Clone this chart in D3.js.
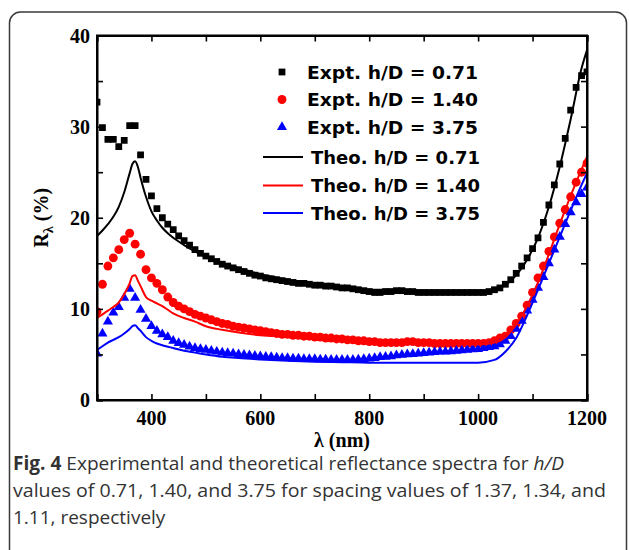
<!DOCTYPE html>
<html>
<head>
<meta charset="utf-8">
<script src="https://cdn.jsdelivr.net/npm/d3@7"></script>
<style>
  body { margin: 0; background: #fff; }
  svg { display: block; }
</style>
</head>
<body>
<svg id="chart" width="629" height="550"></svg>
<script>
// measured points, every 10 nm
const exptWl = [
  300, 310, 320, 330, 340, 350, 360, 370, 380, 390,
  400, 410, 420, 430, 440, 450, 460, 470, 480, 490,
  500, 510, 520, 530, 540, 550, 560, 570, 580, 590,
  600, 610, 620, 630, 640, 650, 660, 670, 680, 690,
  700, 710, 720, 730, 740, 750, 760, 770, 780, 790,
  800, 810, 820, 830, 840, 850, 860, 870, 880, 890,
  900, 910, 920, 930, 940, 950, 960, 970, 980, 990,
  1000, 1010, 1020, 1030, 1040, 1050, 1060, 1070, 1080, 1090,
  1100, 1110, 1120, 1130, 1140, 1150, 1160, 1170, 1180, 1190,
  1200
];
const expt071 = [
  32.7, 29.9, 28.6, 28.6, 27.8, 28.5, 30.1, 30.1, 26.9, 24.2,
  22.4, 21.0, 20.0, 19.3, 18.7, 18.0, 17.5, 17.0, 16.5, 16.1,
  15.8, 15.5, 15.2, 14.9, 14.7, 14.5, 14.3, 14.1, 13.9, 13.7,
  13.6, 13.4, 13.3, 13.2, 13.1, 13.0, 12.9, 12.8, 12.8, 12.7,
  12.6, 12.6, 12.5, 12.5, 12.4, 12.3, 12.3, 12.2, 12.1, 12.0,
  11.9, 11.8, 11.8, 11.9, 11.9, 12.0, 12.0, 11.9, 11.9, 11.8,
  11.8, 11.8, 11.8, 11.8, 11.8, 11.8, 11.8, 11.8, 11.8, 11.8,
  11.8, 11.8, 11.9, 12.1, 12.3, 12.7, 13.2, 13.9, 14.7, 15.6,
  16.6, 17.8, 19.5, 21.4, 23.6, 25.9, 28.7, 31.8, 34.3, 35.6,
  36.0
];
const expt140 = [
  9.7, 12.7, 14.7, 15.6, 16.5, 17.6, 18.3, 17.1, 16.0, 14.3,
  13.4, 12.8, 12.1, 11.3, 10.7, 10.3, 10.0, 9.7, 9.4, 9.2,
  9.0, 8.8, 8.6, 8.4, 8.3, 8.1, 8.0, 7.9, 7.8, 7.7,
  7.6, 7.5, 7.4, 7.3, 7.2, 7.2, 7.1, 7.1, 7.0, 7.0,
  6.9, 6.9, 6.8, 6.8, 6.7, 6.7, 6.6, 6.6, 6.5, 6.5,
  6.4, 6.4, 6.3, 6.3, 6.3, 6.3, 6.3, 6.4, 6.4, 6.3,
  6.3, 6.3, 6.2, 6.2, 6.2, 6.2, 6.2, 6.2, 6.2, 6.2,
  6.2, 6.2, 6.3, 6.5, 6.8, 7.0, 7.7, 8.4, 9.2, 10.4,
  11.8, 13.4, 14.7, 16.3, 17.9, 19.4, 20.9, 22.3, 23.9, 25.0,
  26.0
];
const expt375 = [
  5.1, 7.3, 8.6, 9.6, 10.2, 11.2, 12.2, 11.2, 9.9, 8.9,
  8.1, 7.6, 7.2, 6.9, 6.5, 6.25, 6.05, 5.85, 5.7, 5.6,
  5.5, 5.4, 5.3, 5.2, 5.15, 5.1, 5.0, 4.95, 4.9, 4.85,
  4.8, 4.75, 4.7, 4.65, 4.6, 4.6, 4.55, 4.55, 4.5, 4.5,
  4.5, 4.45, 4.45, 4.4, 4.4, 4.4, 4.4, 4.4, 4.45, 4.5,
  4.55, 4.6, 4.7, 4.75, 4.8, 4.9, 4.95, 5.0, 5.05, 5.1,
  5.15, 5.2, 5.25, 5.3, 5.3, 5.35, 5.4, 5.45, 5.5, 5.55,
  5.6, 5.7, 5.8, 5.9, 6.1, 6.5, 7.0, 7.8, 8.7, 9.8,
  11.0, 12.3, 13.5, 15.0, 16.5, 17.9, 19.3, 20.6, 21.7, 22.6,
  23.3
];

// theoretical curves
const theoWl = [
  300, 310, 320, 330, 340, 350, 360, 365, 370, 375,
  380, 390, 400, 410, 420, 430, 440, 460, 480, 500,
  530, 560, 600, 650, 700, 750, 800, 850, 900, 950,
  1000, 1030, 1050, 1070, 1090, 1110, 1130, 1150, 1170, 1190,
  1200
];
const theo071 = [
  18.0, 18.6, 19.3, 20.1, 21.2, 22.8, 24.9, 25.9, 26.2, 25.6,
  24.4, 22.3, 20.7, 19.7, 18.9, 18.3, 17.8, 17.0, 16.3, 15.7,
  15.0, 14.5, 13.8, 13.2, 12.7, 12.4, 12.1, 12.1, 11.9, 11.8,
  11.8, 12.1, 12.6, 13.7, 15.4, 17.8, 21.2, 25.6, 30.8, 36.4,
  38.4
];
const theo140 = [
  9.0, 9.4, 9.8, 10.2, 10.7, 11.6, 12.8, 13.6, 13.7, 13.1,
  12.5, 11.3, 10.9, 10.6, 10.3, 9.9, 9.5, 9.0, 8.6, 8.1,
  7.7, 7.4, 7.1, 6.95, 6.75, 6.6, 6.4, 6.3, 6.2, 6.15,
  6.1, 6.3, 6.9, 8.3, 10.3, 12.9, 16.0, 19.3, 22.4, 25.3,
  26.7
];
const theo375 = [
  5.5, 5.9, 6.3, 6.6, 6.9, 7.3, 7.8, 8.1, 8.2, 7.9,
  7.6, 6.9, 6.5, 6.2, 6.0, 5.85, 5.7, 5.4, 5.2, 5.0,
  4.75, 4.6, 4.45, 4.3, 4.2, 4.15, 4.1, 4.1, 4.1, 4.1,
  4.1, 4.4, 5.3, 6.8, 9.3, 12.1, 15.0, 17.9, 20.8, 23.6,
  24.9
];

const xTicks = [400, 600, 800, 1000, 1200];
const yTicks = [0, 10, 20, 30, 40];
const legendLabels = [
  'Expt. h/D = 0.71', 'Expt. h/D = 1.40', 'Expt. h/D = 3.75',
  'Theo. h/D = 0.71', 'Theo. h/D = 1.40', 'Theo. h/D = 3.75'
];
const captionLines = [
  'Experimental and theoretical reflectance spectra for ',
  'values of 0.71, 1.40, and 3.75 for spacing values of 1.37, 1.34, and',
  '1.11, respectively'
];

const svg = d3.select('#chart');
const margin = { left: 97, top: 35.5, right: 42, bottom: 150 };
const W = 629, H = 550;
const x = d3.scaleLinear().domain([300, 1200]).range([margin.left, W - margin.right]);
const y = d3.scaleLinear().domain([0, 40]).range([H - margin.bottom, margin.top]);

// outer figure frame
svg.append('rect')
  .attr('x', 9.5).attr('y', 12)
  .attr('width', 617).attr('height', 600)
  .attr('rx', 11)
  .attr('fill', 'none')
  .attr('stroke', '#3a3a3a')
  .attr('stroke-width', 1.5);

svg.append('defs').append('clipPath').attr('id', 'plot-clip')
  .append('rect')
  .attr('x', x(300)).attr('y', y(40))
  .attr('width', x(1200) - x(300)).attr('height', y(0) - y(40));

const plot = svg.append('g').attr('clip-path', 'url(#plot-clip)');

const series = [
  { wl: exptWl, v: expt071, color: '#000', shape: d3.symbolSquare, size: 46 },
  { wl: exptWl, v: expt140, color: '#ff0000', shape: d3.symbolCircle, size: 62 },
  { wl: exptWl, v: expt375, color: '#0000ff', shape: d3.symbolTriangle, size: 44 }
];
const theory = [
  { wl: theoWl, v: theo071, color: '#000' },
  { wl: theoWl, v: theo140, color: '#ff0000' },
  { wl: theoWl, v: theo375, color: '#0000ff' }
];

const line = d3.line()
  .x(d => x(d[0]))
  .y(d => y(d[1]))
  .curve(d3.curveMonotoneX);

series.forEach(s => {
  plot.append('g')
    .selectAll('path')
    .data(d3.zip(s.wl, s.v))
    .join('path')
    .attr('transform', d => `translate(${x(d[0])},${y(d[1])})`)
    .attr('d', d3.symbol().type(s.shape).size(s.size)())
    .attr('fill', s.color);
});

theory.forEach(t => {
  plot.append('path')
    .datum(d3.zip(t.wl, t.v))
    .attr('d', line)
    .attr('fill', 'none')
    .attr('stroke', t.color)
    .attr('stroke-width', 2);
});

// axes, ticks pointing inward on all four sides
const tickFont = 'bold 20px "Liberation Serif", "Times New Roman", serif';
const xAxisB = d3.axisBottom(x).tickValues(d3.range(300, 1201, 100)).tickSize(-6).tickFormat('');
const yAxisL = d3.axisLeft(y).tickValues(d3.range(0, 41, 5)).tickSize(-6).tickFormat('');

svg.append('g').attr('transform', `translate(0,${y(0)})`).call(xAxisB);
svg.append('g').attr('transform', `translate(0,${y(40)})`)
  .call(d3.axisTop(x).tickValues(d3.range(300, 1201, 100)).tickSize(-6).tickFormat(''));
svg.append('g').attr('transform', `translate(${x(300)},0)`).call(yAxisL);
svg.append('g').attr('transform', `translate(${x(1200)},0)`)
  .call(d3.axisRight(y).tickValues(d3.range(0, 41, 5)).tickSize(-6).tickFormat(''));

svg.selectAll('.domain').attr('stroke', '#000').attr('stroke-width', 2);
svg.selectAll('.tick line').attr('stroke', '#000').attr('stroke-width', 1.6);

svg.append('rect')
  .attr('x', x(300)).attr('y', y(40))
  .attr('width', x(1200) - x(300)).attr('height', y(0) - y(40))
  .attr('fill', 'none').attr('stroke', '#000').attr('stroke-width', 2);

svg.append('g').selectAll('text')
  .data(xTicks)
  .join('text')
  .attr('x', d => x(d))
  .attr('y', y(0) + 25)
  .attr('text-anchor', 'middle')
  .style('font', tickFont)
  .text(d => d);

svg.append('g').selectAll('text')
  .data(yTicks)
  .join('text')
  .attr('x', x(300) - 7)
  .attr('y', d => y(d) + 7)
  .attr('text-anchor', 'end')
  .style('font', tickFont)
  .text(d => d);

// axis titles
svg.append('text')
  .attr('x', (x(300) + x(1200)) / 2)
  .attr('y', 447)
  .attr('text-anchor', 'middle')
  .style('font', tickFont)
  .text('λ (nm)');

const yTitle = svg.append('text')
  .attr('transform', `translate(48,${(y(0) + y(40)) / 2}) rotate(-90)`)
  .attr('text-anchor', 'middle')
  .style('font', tickFont);
yTitle.append('tspan').text('R');
yTitle.append('tspan').attr('dy', 5).style('font-size', '14px').text('λ');
yTitle.append('tspan').attr('dy', -5).text(' (%)');

// legend
const legend = svg.append('g');
const legendFont = 'bold 18px "DejaVu Sans", Verdana, sans-serif';
const rowY = [72, 99.5, 127, 157, 185.5, 213];
legendLabels.forEach((lab, i) => {
  if (i < 3) {
    legend.append('path')
      .attr('transform', `translate(282,${rowY[i]})`)
      .attr('d', d3.symbol().type(series[i].shape).size(series[i].size)())
      .attr('fill', series[i].color);
  } else {
    legend.append('line')
      .attr('x1', 263).attr('x2', 303)
      .attr('y1', rowY[i]).attr('y2', rowY[i])
      .attr('stroke', theory[i - 3].color)
      .attr('stroke-width', 2);
  }
  legend.append('text')
    .attr('x', i < 3 ? 307 : 311)
    .attr('y', rowY[i] + 6.5)
    .style('font', legendFont)
    .attr('textLength', i < 3 ? 171 : 169)
    .attr('lengthAdjust', 'spacingAndGlyphs')
    .attr('fill', '#000')
    .text(lab);
});

// caption, widths matched to the printed lines
const capFont = '19px "Open Sans", "Noto Sans", sans-serif';
const cap = svg.append('g').attr('fill', '#333');
const l1 = cap.append('text').attr('x', 13).attr('y', 470).style('font', capFont)
  .attr('textLength', 551).attr('lengthAdjust', 'spacingAndGlyphs');
l1.append('tspan').style('font-weight', 'bold').text('Fig. 4');
l1.append('tspan').text(' ' + captionLines[0]);
l1.append('tspan').style('font-style', 'italic').text('h/D');
cap.append('text').attr('x', 13).attr('y', 497).style('font', capFont)
  .attr('textLength', 593).attr('lengthAdjust', 'spacingAndGlyphs')
  .text(captionLines[1]);
cap.append('text').attr('x', 13).attr('y', 524).style('font', capFont).text(captionLines[2]);
</script>
</body>
</html>
